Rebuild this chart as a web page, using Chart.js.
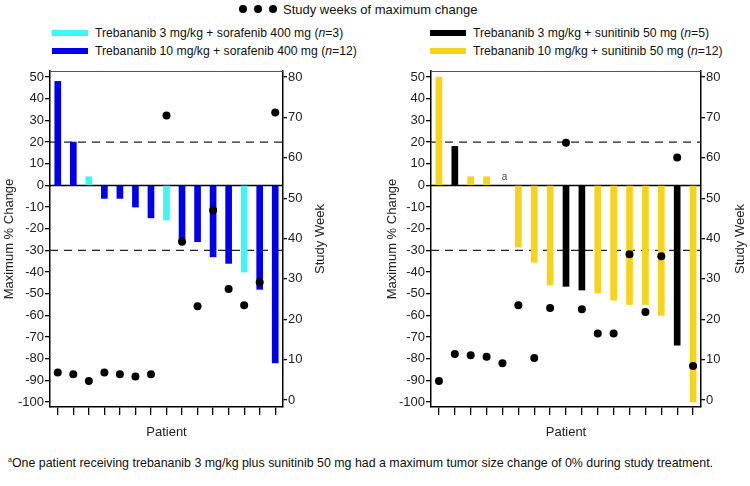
<!DOCTYPE html>
<html>
<head>
<meta charset="utf-8">
<script src="https://cdn.jsdelivr.net/npm/chart.js@4.4.0/dist/chart.umd.min.js"></script>
<style>
  body { margin: 0; width: 750px; height: 486px; position: relative; background: #fff; overflow: hidden;
         font-family: 'Liberation Sans', Arial, sans-serif; color: #111; }
  canvas { position: absolute; }
  .lg { position: absolute; font-size: 12.2px; line-height: 14px; white-space: nowrap; }
  .sw { position: absolute; width: 36px; height: 6px; }
  .dot { position: absolute; width: 8px; height: 8px; border-radius: 50%; background: #000; }
  #foot { position: absolute; left: 8px; top: 456px; font-size: 12.4px; white-space: nowrap; }
  #foot sup { font-size: 7px; }
</style>
</head>
<body>
<!-- legends -->
<div class="dot" style="left:239px;top:5px"></div>
<div class="dot" style="left:254px;top:5px"></div>
<div class="dot" style="left:269px;top:5px"></div>
<div class="lg" style="left:283px;top:3px;font-size:13px">Study weeks of maximum change</div>

<div class="sw" style="left:52px;top:30px;background:#3ff5f5"></div>
<div class="lg" style="left:95px;top:26px">Trebananib 3 mg/kg + sorafenib 400 mg (<i>n</i>=3)</div>
<div class="sw" style="left:52px;top:48px;background:#0000ee"></div>
<div class="lg" style="left:95px;top:44px">Trebananib 10 mg/kg + sorafenib 400 mg (<i>n</i>=12)</div>

<div class="sw" style="left:430px;top:30px;background:#000"></div>
<div class="lg" style="left:473px;top:26px">Trebananib 3 mg/kg + sunitinib 50 mg (<i>n</i>=5)</div>
<div class="sw" style="left:430px;top:48px;background:#f9d21a"></div>
<div class="lg" style="left:473px;top:44px">Trebananib 10 mg/kg + sunitinib 50 mg (<i>n</i>=12)</div>

<canvas id="left" width="330" height="385" style="left:0;top:62px"></canvas>
<canvas id="right" width="367" height="385" style="left:383px;top:62px"></canvas>

<div id="foot"><sup>a</sup>One patient receiving trebananib 3 mg/kg plus sunitinib 50 mg had a maximum tumor size change of 0% during study treatment.</div>

<script>
//--Data--//
// trebananib + sorafenib
const sorafPatients = ['1','2','3','4','5','6','7','8','9','10','11','12','13','14','15'];
const sorafChange = [48, 20, 4, -6, -6, -10, -15, -16, -26, -26, -33, -36, -40, -48, -82];
const sorafDose = ['10','10','3','10','10','10','10','3','10','10','10','10','3','10','10'];
const sorafWeeks = [6.8, 6.4, 4.7, 6.8, 6.4, 5.8, 6.4, 70.5, 39.2, 23.2, 47, 27.5, 23.5, 29.2, 71.2];

// trebananib + sunitinib
const sunitPatients = ['1','2','3','4','5','6','7','8','9','10','11','12','13','14','15','16','17'];
const sunitChange = [50, 18, 4, 4, 0, -28.5, -35.5, -46, -46.6, -48.3, -49.7, -53, -55, -55, -60, -73.8, -100];
const sunitDose = ['10','3','10','10','3','10','10','10','3','3','10','10','10','10','10','3','10'];
const sunitWeeks = [4.7, 11.4, 11.1, 10.7, 9.1, 23.5, 10.4, 22.8, 63.7, 22.5, 16.5, 16.5, 36.1, 21.8, 35.6, 60.1, 8.4];

const changeTicks = [-100, -90, -80, -70, -60, -50, -40, -30, -20, -10, 0, 10, 20, 30, 40, 50];
const weekTicks = [0, 10, 20, 30, 40, 50, 60, 70, 80];
const refLevels = [20, -30];
//--Data--//

Chart.defaults.font.family = "'Liberation Sans', Arial, sans-serif";
Chart.defaults.color = '#222';

const refLines = {
  id: 'refLines',
  beforeDatasetsDraw(chart) {
    const { ctx, chartArea: a, scales: { y } } = chart;
    ctx.save();
    // top frame line
    ctx.strokeStyle = '#555';
    ctx.lineWidth = 1;
    ctx.beginPath(); ctx.moveTo(a.left, a.top + 0.5); ctx.lineTo(a.right, a.top + 0.5); ctx.stroke();
    // dashed reference lines
    ctx.strokeStyle = '#222';
    ctx.lineWidth = 1.3;
    ctx.setLineDash([8, 6]);
    refLevels.forEach(v => {
      const py = y.getPixelForValue(v);
      ctx.beginPath(); ctx.moveTo(a.left, py); ctx.lineTo(a.right, py); ctx.stroke();
    });
    ctx.setLineDash([]);
    ctx.strokeStyle = '#000';
    ctx.lineWidth = 1.5;
    const z = y.getPixelForValue(0);
    ctx.beginPath(); ctx.moveTo(a.left, z); ctx.lineTo(a.right, z); ctx.stroke();
    ctx.restore();
  },
  afterDraw(chart, args, opts) {
    const { ctx, chartArea: a, scales: { x, y } } = chart;
    ctx.save();
    // right axis title, reading bottom to top
    ctx.fillStyle = '#222';
    ctx.font = "13px 'Liberation Sans', Arial, sans-serif";
    ctx.textAlign = 'center';
    ctx.textBaseline = 'middle';
    ctx.translate(chart.width - 10, (a.top + a.bottom) / 2);
    ctx.rotate(-Math.PI / 2);
    ctx.fillText('Study Week', 0, 0);
    ctx.restore();

    if (!opts.note) return;
    const data = chart.data.datasets[1].data;
    const i = data.indexOf(0);
    if (i < 0) return;
    ctx.save();
    ctx.fillStyle = '#444';
    ctx.font = "10px 'Liberation Sans', Arial, sans-serif";
    ctx.textAlign = 'center';
    ctx.fillText(opts.note, x.getPixelForValue(i) + 2, y.getPixelForValue(0) - 5);
    ctx.restore();
  }
};

function keepTicks(list) {
  return scale => { scale.ticks = list.map(v => ({ value: v })); };
}

function makeChart(id, labels, change, dose, weeks, colors, yWidth, y2Width, note) {
  const tickFont = { size: 13 };
  new Chart(document.getElementById(id), {
    data: {
      labels: labels,
      datasets: [
        {
          type: 'line', yAxisID: 'y2', data: weeks, showLine: false,
          pointRadius: 4, pointBackgroundColor: '#000', pointBorderWidth: 0, order: 0
        },
        {
          type: 'bar', yAxisID: 'y', data: change,
          backgroundColor: dose.map(d => colors[d]), barThickness: 6, order: 1
        }
      ]
    },
    options: {
      responsive: false,
      animation: false,
      layout: { padding: { top: 9, left: 0, right: 0, bottom: 0 } },
      plugins: { legend: { display: false }, tooltip: { enabled: false }, refLines: { note: note } },
      scales: {
        x: {
          offset: true,
          grid: { offset: false, drawOnChartArea: false, tickLength: 8, color: '#000', lineWidth: 1.3 },
          border: { color: '#000', width: 1.5 },
          ticks: { display: false },
          title: { display: true, text: 'Patient', font: { size: 13 }, padding: { top: 0, bottom: 7 } },
          afterFit(s) { s.height = 40; }
        },
        y: {
          position: 'left', min: -102.3, max: 52.8,
          afterBuildTicks: keepTicks(changeTicks),
          ticks: { font: tickFont, padding: 1 },
          grid: { drawOnChartArea: false, tickLength: 5, color: '#000', lineWidth: 1.3 },
          border: { color: '#000', width: 1.5 },
          title: { display: true, text: 'Maximum % Change', font: { size: 13 }, padding: { top: 2, bottom: 0 } },
          afterFit(s) { s.width = yWidth; }
        },
        y2: {
          position: 'right', min: -1.73, max: 81.5,
          afterBuildTicks: keepTicks(weekTicks),
          ticks: { font: tickFont, padding: 1 },
          grid: { drawOnChartArea: false, tickLength: 4, color: '#000', lineWidth: 1.3 },
          border: { color: '#000', width: 1.5 },
          title: { display: false },
          afterFit(s) { s.width = y2Width; }
        }
      }
    },
    plugins: [refLines]
  });
}

makeChart('left', sorafPatients, sorafChange, sorafDose, sorafWeeks,
  { '3': '#3ff5f5', '10': '#0000ee' }, 50, 47, null);
makeChart('right', sunitPatients, sunitChange, sunitDose, sunitWeeks,
  { '3': '#000000', '10': '#f9d21a' }, 48, 49, 'a');
</script>
</body>
</html>
